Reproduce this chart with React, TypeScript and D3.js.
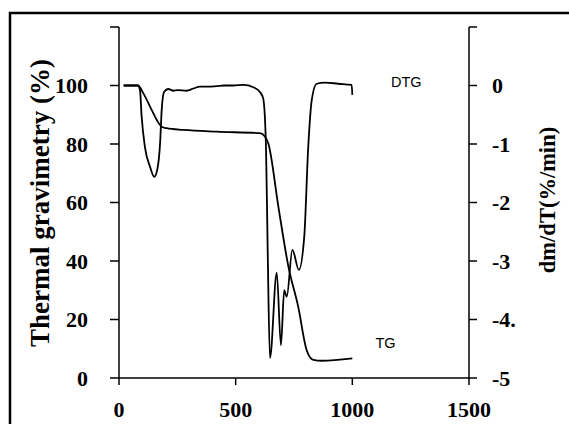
import React from "react";
import * as d3 from "d3";

const tgTemp = [20, 81, 104, 133, 162, 183, 204, 276, 419, 604, 626, 640, 683, 726, 768, 804, 833, 869, 1000];
const tgValue = [100, 100, 97.4, 92.8, 88.2, 85.9, 85.4, 84.8, 84.2, 83.7, 82.5, 80.2, 58.6, 38.1, 24.4, 9.6, 6.2, 5.9, 6.7];

const dtgTemp = [20, 81, 90, 97, 111, 133, 151, 164, 176, 183, 193, 211, 233, 250, 290, 320, 347, 380, 419, 450, 490, 533, 576, 604, 618, 630, 637, 647, 676, 694, 708, 719, 743, 771, 794, 811, 826, 847, 883, 940, 997, 1000];
const dtgValue = [0, 0, -0.08, -0.53, -1.05, -1.39, -1.56, -1.44, -0.99, -0.42, -0.11, -0.06, -0.09, -0.08, -0.09, -0.05, -0.02, -0.02, -0.01, 0.0, 0.0, 0.01, -0.03, -0.11, -0.22, -1.05, -2.76, -4.66, -3.2, -4.44, -3.5, -3.61, -2.81, -3.15, -2.58, -1.05, -0.25, 0.03, 0.05, 0.03, 0.01, -0.16];

const xTicks = [0, 500, 1000, 1500];
const leftTicks = [0, 20, 40, 60, 80, 100, 120];
const leftTickLabels = ["0", "20", "40", "60", "80", "100", ""];
const rightTicks = [-5, -4, -3, -2, -1, 0, 1];
const rightTickLabels = ["-5", "-4.", "-3", "-2", "-1", "0", ""];

const serif = "'Liberation Serif', 'Times New Roman', serif";
const sans = "'Liberation Sans', Arial, sans-serif";

export default function App() {
  const x = d3.scaleLinear().domain([0, 1500]).range([119, 469]);
  const yL = d3.scaleLinear().domain([0, 120]).range([378, 27]);
  const yR = d3.scaleLinear().domain([-5, 1]).range([378, 27]);

  const tgData = tgTemp.map((t, i) => [t, tgValue[i]] as [number, number]);
  const dtgData = dtgTemp.map((t, i) => [t, dtgValue[i]] as [number, number]);

  const tgLine = d3
    .line<[number, number]>()
    .x((d) => x(d[0]))
    .y((d) => yL(d[1]))
    .curve(d3.curveMonotoneX);
  const dtgLine = d3
    .line<[number, number]>()
    .x((d) => x(d[0]))
    .y((d) => yR(d[1]))
    .curve(d3.curveMonotoneX);

  const x0 = x(0);
  const x1 = x(1500);
  const yb = yL(0);
  const yt = yL(120);

  return (
    <svg
      width={569}
      height={424}
      style={{ position: "absolute", left: 0, top: 0, background: "#fff" }}
    >
      <rect x={0} y={0} width={569} height={424} fill="#fff" />
      <rect x={10} y={13} width={620} height={450} fill="none" stroke="#000" strokeWidth={2.5} />

      {/* axes */}
      <line x1={x0} x2={x0} y1={yt} y2={yb} stroke="#000" strokeWidth={1.5} />
      <line x1={x1} x2={x1} y1={yt} y2={yb} stroke="#000" strokeWidth={1.5} />
      <line x1={x0} x2={x1} y1={yb} y2={yb} stroke="#000" strokeWidth={1.5} />

      {leftTicks.map((v, i) => (
        <g key={"l" + v}>
          <line x1={x0 - 9} x2={x0} y1={yL(v)} y2={yL(v)} stroke="#000" strokeWidth={1.5} />
          <text
            x={88}
            y={yL(v)}
            dy="0.35em"
            textAnchor="end"
            fontFamily={serif}
            fontWeight="bold"
            fontSize={22}
          >
            {leftTickLabels[i]}
          </text>
        </g>
      ))}

      {rightTicks.map((v, i) => (
        <g key={"r" + v}>
          <line x1={x1} x2={x1 + 8} y1={yR(v)} y2={yR(v)} stroke="#000" strokeWidth={1.5} />
          <text
            x={492}
            y={yR(v)}
            dy="0.35em"
            textAnchor="start"
            fontFamily={serif}
            fontWeight="bold"
            fontSize={22}
          >
            {rightTickLabels[i]}
          </text>
        </g>
      ))}

      {xTicks.map((v) => (
        <g key={"x" + v}>
          <line x1={x(v)} x2={x(v)} y1={yb} y2={yb + 7} stroke="#000" strokeWidth={1.5} />
          <text
            x={x(v)}
            y={416.5}
            textAnchor="middle"
            fontFamily={serif}
            fontWeight="bold"
            fontSize={22}
          >
            {v}
          </text>
        </g>
      ))}

      {/* curves */}
      <path d={tgLine(tgData) || ""} fill="none" stroke="#000" strokeWidth={1.8} />
      <path d={dtgLine(dtgData) || ""} fill="none" stroke="#000" strokeWidth={1.8} />

      {/* curve labels */}
      <text x={391} y={87} fontFamily={sans} fontSize={14.5}>
        DTG
      </text>
      <text x={375.5} y={348} fontFamily={sans} fontSize={14.5}>
        TG
      </text>

      {/* axis titles */}
      <text
        transform="translate(49,203) rotate(-90)"
        textAnchor="middle"
        fontFamily={serif}
        fontWeight="bold"
        fontSize={27}
      >
        Thermal gravimetry (%)
      </text>
      <text
        transform="translate(555,200) rotate(-90)"
        textAnchor="middle"
        fontFamily={serif}
        fontWeight="bold"
        fontSize={22.5}
      >
        dm/dT(%/min)
      </text>
    </svg>
  );
}
